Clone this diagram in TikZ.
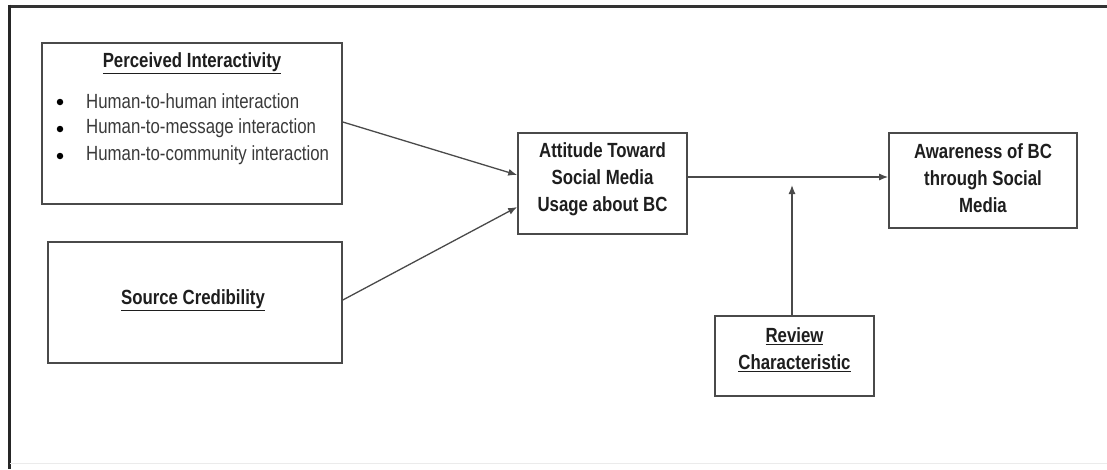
\documentclass[tikz,border=0pt]{standalone}
\usepackage{fontspec}
\setmainfont{Liberation Sans}[FakeStretch=0.82]
\usetikzlibrary{arrows.meta}
\definecolor{linegray}{HTML}{4A4A4A}
\definecolor{textdark}{HTML}{1E1E1E}
\definecolor{textgray}{HTML}{3A3A3A}
\tikzset{
  box/.style={draw=linegray, line width=1.6pt, fill=white, inner sep=0pt},
  ttl/.style={font=\fontsize{20.5}{27}\selectfont\bfseries, text=textdark, align=center, inner sep=0pt},
  item/.style={font=\fontsize{20.5}{27}\selectfont, text=textgray, anchor=west, inner sep=0pt},
  bul/.style={circle, fill=black, inner sep=0pt, minimum size=6.5pt},
  conn/.style={draw=linegray, line width=1.3pt, -{Latex[length=9pt,width=7pt]}},
}
\begin{document}
\begin{tikzpicture}[x=1pt,y=-1pt]
\useasboundingbox (0,0) rectangle (1107,469);
% frame
\draw[draw=black!80, line width=3pt] (9,6) -- (1107,6);
\draw[draw=black!85, line width=3pt] (9,4.5) -- (9,469);
\draw[draw=black!8, line width=1pt] (10,463) -- (1107,463);
% boxes
\node[box, minimum width=300pt, minimum height=161pt] (pi) at (192,123.5) {};
\node[box, minimum width=294pt, minimum height=121pt] (sc) at (195,302.5) {};
\node[box, minimum width=169pt, minimum height=101pt] (att) at (602.5,183.5) {};
\node[box, minimum width=188pt, minimum height=95pt] (aw) at (983,180.5) {};
\node[box, minimum width=159pt, minimum height=80pt] (rev) at (794.5,356) {};
% texts
\node[ttl] (attt) at (602.5,179.5) {Attitude Toward\\Social Media\\Usage about BC};
\node[ttl] (awt) at (983,178.5) {Awareness of BC\\through Social\\Media};
\node[ttl] (revt) at (794.5,350) {\underline{Review}\\\underline{Characteristic}};
\node[ttl] (pit) at (192,63) {\underline{Perceived Interactivity}};
\node[item] (i1) at (86,101) {Human-to-human interaction};
\node[item] (i2) at (86,128) {Human-to-message interaction};
\node[item] (i3) at (86,155) {Human-to-community interaction};
\node[bul] (b1) at (60,102) {};
\node[bul] (b2) at (60,129) {};
\node[bul] (b3) at (60,156) {};
\node[ttl] (sct) at (193,300) {\underline{Source Credibility}};
% connectors
\coordinate (piout) at (pi.east |- 0,122);
\coordinate (scout) at (sc.east |- 0,300);
\coordinate (attin1) at (att.west |- 0,175);
\coordinate (attin2) at (att.west |- 0,207);
\coordinate (attout) at (att.east |- 0,177);
\coordinate (awin) at (aw.west |- 0,177);
\coordinate (mod) at (rev.north -| 792,0);
\coordinate (modend) at (792,185);
\draw[conn] (piout) -- (attin1);
\draw[conn] (scout) -- (attin2);
\draw[conn] (attout) -- (awin);
\draw[conn] (mod) -- (modend);
\end{tikzpicture}
\end{document}
